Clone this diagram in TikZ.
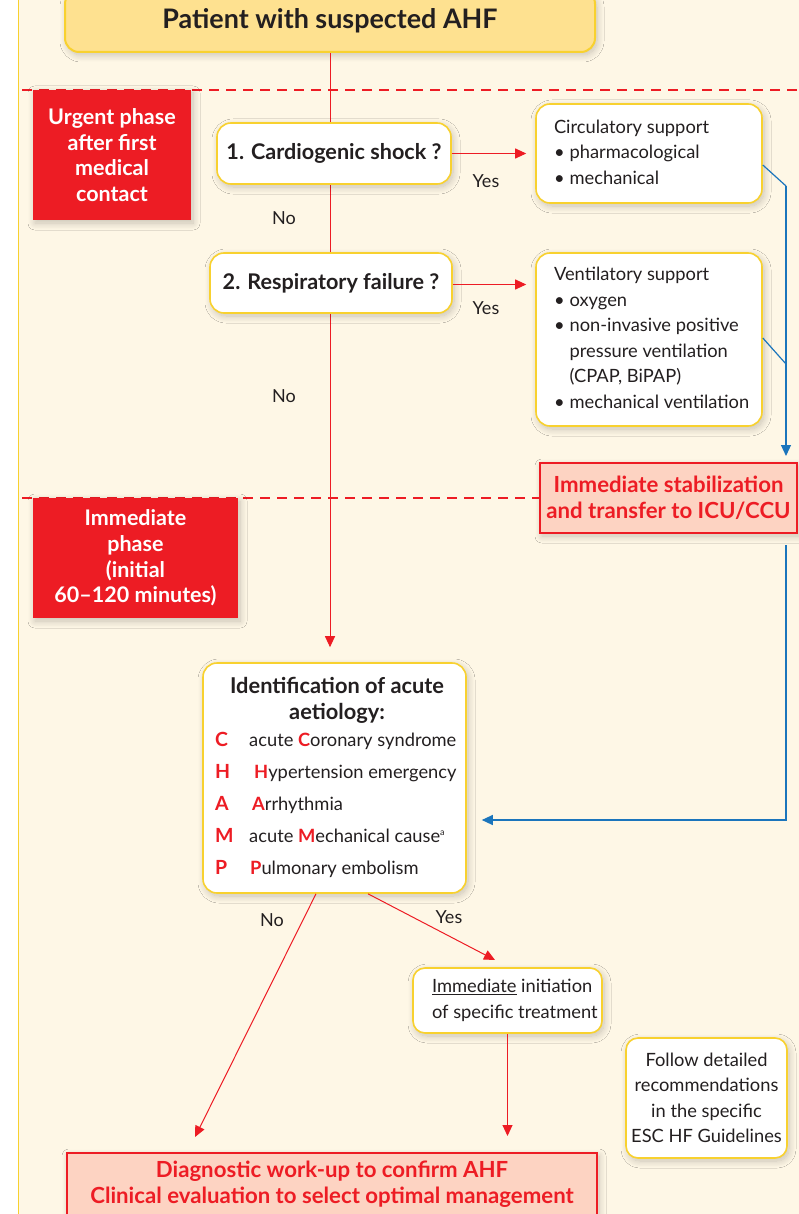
\documentclass[tikz,border=0pt]{standalone}
\usepackage{fontspec}
\setmainfont{Lato}
\usetikzlibrary{arrows.meta,shadows.blur,calc}
\definecolor{cream}{HTML}{FEF7E6}
\definecolor{gold}{HTML}{F8D12F}
\definecolor{topfill}{HTML}{FEE190}
\definecolor{ered}{HTML}{ED1C24}
\definecolor{pinkfill}{HTML}{FDD3C2}
\definecolor{eblue}{HTML}{1B75BC}
\definecolor{ink}{HTML}{231F20}
\newcommand\bul{\textbullet\hspace{5pt}}
\newcommand\bulind{\phantom{\textbullet}\hspace{5pt}}
\newcommand\leftlines[2]{\makebox[#1][l]{\begin{tabular}{@{}l@{}}#2\end{tabular}}}
\tikzset{
  shadowed/.style={blur shadow={shadow xshift=2pt,shadow yshift=-3pt,shadow blur radius=7pt,shadow blur steps=10,shadow opacity=22}},
  ybox/.style={draw=gold, line width=1.6pt, fill=white, rounded corners=14pt, inner sep=0pt, shadowed, text=ink},
  redtag/.style={fill=ered, inner sep=0pt, text=white, font=\bfseries\fontsize{21.5}{25.7}\selectfont, align=center, shadowed},
  pinkbox/.style={draw=ered, line width=2pt, fill=pinkfill, inner sep=0pt, text=ered, font=\bfseries\fontsize{22.2}{26}\selectfont, align=center, shadowed},
  redline/.style={draw=ered, line width=1pt},
  redarrow/.style={redline, -{Triangle[length=11pt,width=10pt]}},
  blueline/.style={draw=eblue, line width=1.2pt},
  bluearrow/.style={blueline, -{Triangle[length=11pt,width=10pt]}},
  phasedash/.style={draw=ered, line width=2pt, dash pattern=on 10pt off 7pt},
  lab/.style={text=ink, font=\fontsize{18}{20}\selectfont, inner sep=0pt},
  qfont/.style={font=\bfseries\fontsize{21.6}{22}\selectfont},
  bodyfont/.style={font=\fontsize{18.3}{25.5}\selectfont},
  letter/.style={text=ered, font=\bfseries\fontsize{19.5}{22}\selectfont, inner sep=0pt, anchor=base west},
  rowtext/.style={text=ink, font=\fontsize{18.3}{22}\selectfont, inner sep=0pt, anchor=base west},
}
\begin{document}
\begin{tikzpicture}[x=1pt,y=-1pt]
\useasboundingbox (0,0) rectangle (799,1214);
\clip (0,0) rectangle (799,1214);
% background
\fill[white] (0,0) rectangle (18,1214);
\fill[cream] (18,0) rectangle (799,1214);
\draw[gold, line width=1.5pt] (18.5,0) -- (18.5,1214);

% phase dashed lines
\draw[phasedash] (22,90) -- (799,90);

% top box
\node[ybox, fill=topfill, line width=2pt, minimum width=530pt, minimum height=62pt, font=\bfseries\fontsize{26.9}{28}\selectfont] (start) at (330,21) {Patient with suspected AHF};

% urgent phase tag
\node[redtag, minimum width=158pt, minimum height=130pt] (urgent) at (112,155) {Urgent phase\\after first\\medical\\contact};

% identification box (placed early for main line)
\node[ybox, minimum width=263pt, minimum height=230pt] (id) at (334.5,778) {};

% main vertical line
\draw[redarrow, shorten >=15pt] (start.south) -- (start.south |- id.north);

% question boxes
\node[ybox, qfont, minimum width=234pt, minimum height=61pt] (q1) at (334,153.5) {1. Cardiogenic shock ?};
\node[ybox, qfont, minimum width=242pt, minimum height=60pt] (q2) at (331,283) {2. Respiratory failure ?};

% support boxes
\node[ybox, bodyfont, minimum width=226pt, minimum height=99pt, inner xsep=18pt] (circ) at (649,153.5)
  {\leftlines{190pt}{Circulatory support\\\bul pharmacological\\\bul mechanical}};
\node[ybox, bodyfont, minimum width=226pt, minimum height=173pt, inner xsep=18pt] (vent) at (649,339.5)
  {\leftlines{190pt}{Ventilatory support\\\bul oxygen\\\bul non-invasive positive\\\bulind pressure ventilation\\\bulind (CPAP, BiPAP)\\\bul mechanical ventilation}};

% yes arrows
\draw[redarrow, shorten >=9pt] (q1.east) -- (q1.east -| circ.west);
\draw[redarrow, shorten >=9pt] ([yshift=-1.5pt]q2.east) -- ([yshift=-1.5pt]q2.east -| vent.west);
\node[lab] (yes1) at (486,181) {Yes};
\node[lab] (yes2) at (486,308) {Yes};
\node[lab] (no1) at (284,218) {No};
\node[lab] (no2) at (284,396) {No};

% stabilization box
\node[pinkbox, minimum width=257pt, minimum height=70pt] (stab) at (668.5,498) {Immediate stabilization\\and transfer to ICU/CCU};
\draw[phasedash] (22,498) -- (stab.west);

% immediate phase tag
\node[redtag, minimum width=205pt, minimum height=120pt] (immed) at (135.5,558) {Immediate\\phase\\(initial\\60--120 minutes)};

% blue connectors
\coordinate (bj1) at (786,186);
\coordinate (bj2) at (786,364);
\coordinate (bs) at (786,545);
\coordinate (bc) at (786,820);
\draw[blueline] ($(circ.east)+(0,11.5)$) -- (bj1);
\draw[blueline] ($(vent.east)+(0,-1.5)$) -- (bj2);
\draw[bluearrow, shorten >=6pt] (bj1) -- (bj1 |- stab.north);
\draw[bluearrow, shorten >=15pt] (bs) -- (bc) -- (bc -| id.east);

% identification text
\node[text=ink, font=\bfseries\fontsize{21.8}{26}\selectfont, align=center, inner sep=0pt] (idt) at (337,700) {Identification of acute\\aetiology:};
\node[letter] (lc) at (215,746) {C};
\node[rowtext] (tc) at (249,746) {acute \textcolor{ered}{\bfseries C}oronary syndrome};
\node[letter] (lh) at (215,778) {H};
\node[rowtext] (th) at (254,778) {\textcolor{ered}{\bfseries H}ypertension emergency};
\node[letter] (la) at (215,810) {A};
\node[rowtext] (ta) at (252,810) {\textcolor{ered}{\bfseries A}rrhythmia};
\node[letter] (lm) at (215,842) {M};
\node[rowtext] (tm) at (249,842) {acute \textcolor{ered}{\bfseries M}echanical cause\textsuperscript{\fontsize{9}{10}\selectfont a}};
\node[letter] (lp) at (215,874) {P};
\node[rowtext] (tp) at (250,874) {\textcolor{ered}{\bfseries P}ulmonary embolism};

% lower boxes
\node[ybox, bodyfont, minimum width=189pt, minimum height=65pt, inner xsep=19pt, rounded corners=12pt] (init) at (507.5,1000.5)
  {\leftlines{151pt}{\underline{Immediate} initiation\\of specific treatment}};
\node[ybox, bodyfont, minimum width=161pt, minimum height=120pt, align=center, rounded corners=12pt] (follow) at (706.5,1098)
  {Follow detailed\\recommendations\\in the specific\\ESC HF Guidelines};
\node[pinkbox, minimum width=530pt, minimum height=62pt] (diag) at (332,1184)
  {Diagnostic work-up to confirm AHF\\Clinical evaluation to select optimal management};

% lower arrows
\coordinate (yesTip) at (495,960);
\coordinate (noTip) at (195,1137);
\draw[redarrow] ($(id.south)+(33.5,0)$) -- (yesTip);
\draw[redarrow] ($(id.south)+(-18.5,0)$) -- (noTip);
\draw[redarrow, shorten >=16pt] (init.south) -- (init.south |- diag.north);
\node[lab] (no3) at (272,920) {No};
\node[lab] (yes3) at (449,917) {Yes};
\end{tikzpicture}
\end{document}
